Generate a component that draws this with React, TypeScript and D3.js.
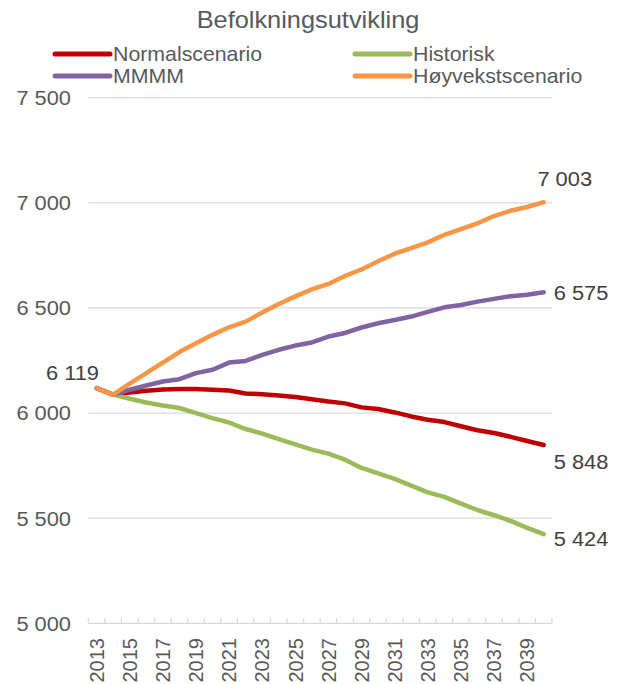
import React from "react";
import * as d3 from "d3";

const years = ["2013","2014","2015","2016","2017","2018","2019","2020","2021","2022","2023","2024","2025","2026","2027","2028","2029","2030","2031","2032","2033","2034","2035","2036","2037","2038","2039","2040"];
const normal = [6119,6088,6098,6106,6112,6115,6114,6111,6107,6093,6090,6084,6076,6066,6055,6046,6027,6019,6003,5984,5968,5957,5937,5918,5905,5887,5867,5848];
const historisk = [6119,6088,6068,6050,6036,6024,6000,5976,5955,5924,5902,5876,5851,5826,5807,5778,5739,5713,5687,5655,5623,5601,5569,5539,5514,5487,5454,5424];
const mmmm = [6119,6088,6111,6131,6150,6161,6190,6206,6240,6248,6277,6301,6321,6336,6364,6381,6407,6427,6443,6459,6481,6503,6514,6530,6543,6556,6563,6575];
const hoyvekst = [6119,6088,6140,6190,6240,6290,6332,6372,6408,6435,6478,6519,6555,6588,6614,6652,6683,6722,6758,6785,6812,6848,6875,6902,6937,6962,6980,7003];
const yTicks = [5000, 5500, 6000, 6500, 7000, 7500];
const seriesNames = ["Normalscenario", "Historisk", "MMMM", "Høyvekstscenario"];

const fmt = (v: number) => {
  const s = String(v);
  return s.length > 3 ? s.slice(0, s.length - 3) + " " + s.slice(-3) : s;
};

function T(props: { x: number; y: number; sx?: number; anchor?: string; size: number; fill: string; children: React.ReactNode }) {
  const { x, y, sx = 1.065, anchor = "start", size, fill, children } = props;
  return (
    <text transform={`translate(${x},${y}) scale(${sx},1)`} dy="0.36em" textAnchor={anchor} fontSize={size} fill={fill}>
      {children}
    </text>
  );
}

export default function App() {
  const W = 620, H = 684;
  const x = d3.scaleBand<string>().domain(years).range([88.3, 552]);
  const bw = x.bandwidth();
  const cx = (yr: string) => (x(yr) as number) + bw / 2;
  const y = d3.scaleLinear().domain([5000, 7500]).range([623.3, 97.7]);
  const font = "'Liberation Sans', Arial, sans-serif";
  const series = [
    { name: seriesNames[0], data: normal, color: "#C00000" },
    { name: seriesNames[1], data: historisk, color: "#9BBB59" },
    { name: seriesNames[2], data: mmmm, color: "#8064A2" },
    { name: seriesNames[3], data: hoyvekst, color: "#F79646" },
  ];
  const line = d3.line<number>().x((_, i) => cx(years[i])).y((d) => y(d));
  const last = years.length - 1;
  const lx = cx(years[last]);
  const legend = [
    { s: series[0], x: 55, y: 54 },
    { s: series[1], x: 355, y: 54 },
    { s: series[2], x: 55, y: 76 },
    { s: series[3], x: 355, y: 76 },
  ];
  const boundaries = years.map((yr) => x(yr) as number).concat([552]);
  return (
    <svg width={W} height={H} style={{ position: "absolute", left: 0, top: 0, background: "#fff" }} fontFamily={font}>
      <rect x={0} y={0} width={W} height={H} fill="#fff" />
      <T x={308} y={20} anchor="middle" size={23.5} sx={1.08} fill="#595959">Befolkningsutvikling</T>
      {legend.map((l, i) => (
        <g key={i}>
          <line x1={l.x} x2={l.x + 55} y1={l.y} y2={l.y} stroke={l.s.color} strokeWidth={5} strokeLinecap="round" />
          <T x={l.x + 58} y={l.y} size={20} fill="#595959">{l.s.name}</T>
        </g>
      ))}
      {yTicks.map((t) => (
        <g key={t}>
          <line x1={88.3} x2={552} y1={y(t)} y2={y(t)} stroke="#d9d9d9" strokeWidth={1.3} />
          <T x={71} y={y(t)} anchor="end" size={20.5} fill="#595959">{fmt(t)}</T>
        </g>
      ))}
      {boundaries.map((b, i) => (
        <line key={i} x1={b} x2={b} y1={y(5000)} y2={y(5000) - 5} stroke="#d9d9d9" strokeWidth={1.3} />
      ))}
      {years.map((yr, i) => i % 2 === 0 ? (
        <text key={yr} transform={`translate(${cx(yr)},638) rotate(-90)`} dy="0.36em" textAnchor="end" fontSize={20} fill="#595959">{yr}</text>
      ) : null)}
      {series.map((s) => (
        <path key={s.name} d={line(s.data) as string} fill="none" stroke={s.color} strokeWidth={4.5} strokeLinejoin="round" strokeLinecap="round" />
      ))}
      <T x={99} y={y(hoyvekst[0]) - 15} anchor="end" size={20.5} fill="#404040">{fmt(hoyvekst[0])}</T>
      <T x={lx + 21} y={y(hoyvekst[last]) - 24} anchor="middle" size={20.5} fill="#404040">{fmt(hoyvekst[last])}</T>
      <T x={lx + 10} y={y(mmmm[last])} size={20.5} fill="#404040">{fmt(mmmm[last])}</T>
      <T x={lx + 10} y={y(normal[last]) + 17} size={20.5} fill="#404040">{fmt(normal[last])}</T>
      <T x={lx + 10} y={y(historisk[last]) + 4} size={20.5} fill="#404040">{fmt(historisk[last])}</T>
    </svg>
  );
}
